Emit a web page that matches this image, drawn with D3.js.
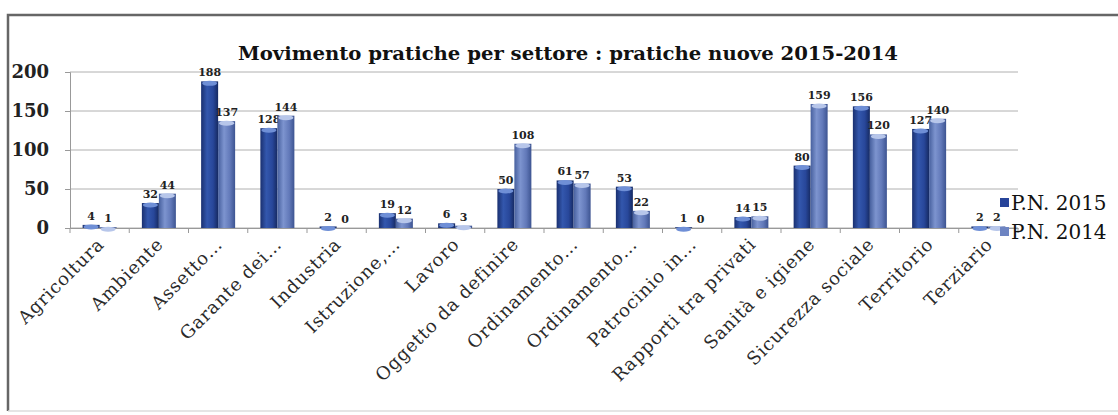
<!DOCTYPE html>
<html>
<head>
<meta charset="utf-8">
<script src="https://cdn.jsdelivr.net/npm/d3@7"></script>
<style>
  body { margin: 0; background: #fff; overflow: hidden; }
  svg { display: block; }
</style>
</head>
<body>
<div id="wrapper"></div>
<script>
const categories = ["Agricoltura", "Ambiente", "Assetto…", "Garante dei…", "Industria", "Istruzione,…",
  "Lavoro", "Oggetto da definire", "Ordinamento…", "Ordinamento…", "Patrocinio in…",
  "Rapporti tra privati", "Sanità e igiene", "Sicurezza sociale", "Territorio", "Terziario"];
const values2015 = [4, 32, 188, 128, 2, 19, 6, 50, 61, 53, 1, 14, 80, 156, 127, 2];
const values2014 = [1, 44, 137, 144, 0, 12, 3, 108, 57, 22, 0, 15, 159, 120, 140, 2];
const seriesNames = ["P.N. 2015", "P.N. 2014"];
const yTicks = [0, 50, 100, 150, 200];

function drawBarChart() {
  const dimensions = {
    width: 1118,
    height: 415,
    margin: { top: 72, right: 100, bottom: 187, left: 70 }
  };
  dimensions.boundedWidth = dimensions.width - dimensions.margin.left - dimensions.margin.right;
  dimensions.boundedHeight = dimensions.height - dimensions.margin.top - dimensions.margin.bottom;

  const serif = "'DejaVu Serif', 'Liberation Serif', serif";

  const wrapper = d3.select("#wrapper").append("svg")
    .attr("width", dimensions.width)
    .attr("height", dimensions.height);

  // outer frame (right edge runs past the picture)
  wrapper.append("path")
    .attr("d", "M1140,15 H8 V411")
    .attr("fill", "none")
    .attr("stroke", "#666")
    .attr("stroke-width", 2.5);
  wrapper.append("line")
    .attr("x1", 8).attr("x2", 1118).attr("y1", 411).attr("y2", 411)
    .attr("stroke", "#ddd")
    .attr("stroke-width", 1.5);

  const defs = wrapper.append("defs");
  const makeGrad = (id, stops) => {
    const g = defs.append("linearGradient").attr("id", id)
      .attr("x1", "0%").attr("x2", "100%").attr("y1", "0%").attr("y2", "0%");
    stops.forEach(s => g.append("stop").attr("offset", s[0]).attr("stop-color", s[1]));
  };
  makeGrad("g2015", [["0%", "#1a3070"], ["35%", "#3357ad"], ["70%", "#28479a"], ["100%", "#162a62"]]);
  makeGrad("g2014", [["0%", "#47609e"], ["35%", "#7d94cf"], ["70%", "#6279b9"], ["100%", "#3d5491"]]);
  const fills = ["url(#g2015)", "url(#g2014)"];
  const tops = ["#6f8fd6", "#b7c6ea"];
  const legendFills = ["#27449a", "#6d84c2"];

  const bounds = wrapper.append("g")
    .attr("transform", `translate(${dimensions.margin.left},${dimensions.margin.top})`);

  const yScale = d3.scaleLinear()
    .domain([0, 200])
    .range([dimensions.boundedHeight, 0]);

  const xScale = d3.scaleBand()
    .domain(d3.range(categories.length))
    .range([0, dimensions.boundedWidth]);

  const xInner = d3.scaleBand()
    .domain([0, 1])
    .range([xScale.bandwidth() / 2 - 17, xScale.bandwidth() / 2 + 17]);

  // gridlines
  bounds.append("g")
    .selectAll("line")
    .data(yTicks)
    .join("line")
    .attr("x1", 0).attr("x2", dimensions.boundedWidth)
    .attr("y1", d => yScale(d)).attr("y2", d => yScale(d))
    .attr("stroke", "#b0b0b0")
    .attr("stroke-width", 1);

  // y axis
  const yAxis = bounds.append("g")
    .call(d3.axisLeft(yScale).tickValues(yTicks).tickSize(5).tickPadding(16));
  yAxis.select(".domain").attr("stroke", "#999");
  yAxis.selectAll(".tick line").attr("stroke", "#999");
  yAxis.selectAll("text")
    .attr("font-family", serif)
    .attr("font-size", 18)
    .attr("font-weight", "bold")
    .attr("fill", "#222");

  // x axis
  const xAxis = bounds.append("g")
    .attr("transform", `translate(0,${dimensions.boundedHeight})`)
    .call(d3.axisBottom(xScale).tickSizeOuter(0).tickSize(0).tickFormat(""));
  xAxis.select(".domain").attr("stroke", "#999");
  bounds.append("g")
    .selectAll("line")
    .data(d3.range(categories.length + 1))
    .join("line")
    .attr("x1", d => d * xScale.step()).attr("x2", d => d * xScale.step())
    .attr("y1", dimensions.boundedHeight).attr("y2", dimensions.boundedHeight + 5)
    .attr("stroke", "#999");

  // category labels
  bounds.append("g")
    .selectAll("text")
    .data(categories)
    .join("text")
    .attr("transform", (d, i) =>
      `translate(${xScale(i) + xScale.bandwidth() / 2 + 1},${dimensions.boundedHeight + 13}) rotate(-45)`)
    .attr("text-anchor", "end")
    .attr("dy", "0.35em")
    .attr("font-family", serif)
    .attr("font-size", 18)
    .attr("letter-spacing", 0.8)
    .attr("fill", "#2a2a2a")
    .text(d => d);

  // bars
  const series = [values2015, values2014];
  const groups = bounds.append("g")
    .selectAll("g")
    .data(categories.map((c, i) => i))
    .join("g")
    .attr("transform", i => `translate(${xScale(i)},0)`);

  series.forEach((vals, s) => {
    const bw = xInner.bandwidth();
    groups.append("rect")
      .attr("x", xInner(s))
      .attr("y", i => yScale(vals[i]))
      .attr("width", bw)
      .attr("height", i => dimensions.boundedHeight - yScale(vals[i]))
      .attr("fill", fills[s]);
    groups.filter(i => vals[i] > 0)
      .append("ellipse")
      .attr("cx", xInner(s) + bw / 2)
      .attr("cy", i => yScale(vals[i]) + 2)
      .attr("rx", bw / 2 - 1)
      .attr("ry", 2.5)
      .attr("fill", tops[s]);
    groups.append("text")
      .attr("x", xInner(s) + bw / 2)
      .attr("y", i => yScale(vals[i]) - 5)
      .attr("text-anchor", "middle")
      .attr("font-family", serif)
      .attr("font-size", 11)
      .attr("font-weight", "bold")
      .attr("fill", "#222")
      .text(i => vals[i]);
  });

  // title
  wrapper.append("text")
    .attr("x", 568)
    .attr("y", 60)
    .attr("text-anchor", "middle")
    .attr("font-family", serif)
    .attr("font-size", 19)
    .attr("font-weight", "bold")
    .attr("fill", "#111")
    .attr("textLength", 660)
    .attr("lengthAdjust", "spacingAndGlyphs")
    .text("Movimento pratiche per settore : pratiche nuove 2015-2014");

  // legend
  const legend = wrapper.append("g")
    .attr("transform", "translate(1000,203)");
  seriesNames.forEach((name, i) => {
    legend.append("rect")
      .attr("x", 0).attr("y", i * 29 - 5)
      .attr("width", 9).attr("height", 9)
      .attr("fill", legendFills[i]);
    legend.append("text")
      .attr("x", 11).attr("y", i * 29)
      .attr("dy", "0.35em")
      .attr("font-family", serif)
      .attr("font-size", 20)
      .attr("fill", "#111")
      .text(name);
  });
}

drawBarChart();
</script>
</body>
</html>
